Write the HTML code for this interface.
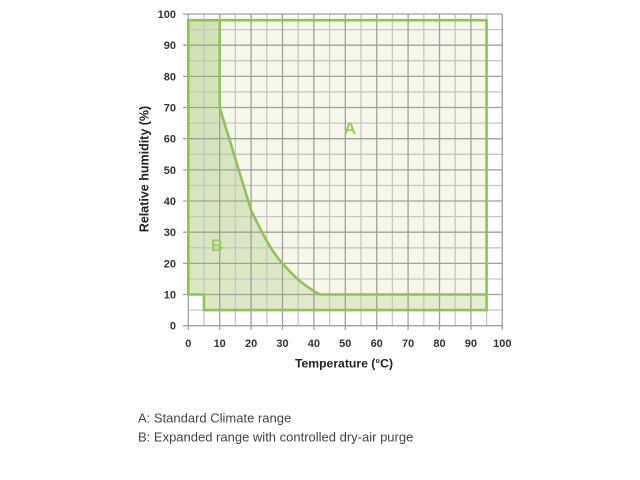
<!DOCTYPE html>
<html>
<head>
<meta charset="utf-8">
<style>
html,body{margin:0;padding:0;background:#fff;}
body{width:640px;height:480px;overflow:hidden;}
svg{display:block;}
</style>
</head>
<body>
<svg width="640" height="480" viewBox="0 0 640 480" xmlns="http://www.w3.org/2000/svg">
  <defs>
    <linearGradient id="gB" x1="188" y1="20" x2="487" y2="310" gradientUnits="userSpaceOnUse">
      <stop offset="0" stop-color="#cfe2b2"/>
      <stop offset="0.45" stop-color="#d9e7c2"/>
      <stop offset="1" stop-color="#e6eed2"/>
    </linearGradient>
  </defs>
  <!-- Region A fill -->
  <rect x="204" y="20.2" width="282.6" height="289.9" fill="#f6f6e9"/>
  <!-- Region B fill -->
  <path d="M188.3,20.2 L219.7,20.2 L219.7,107.5 L251.1,210.4 C262,232 270,250 282.5,263.4 C290,272 298,280 305,285 C312,290 316,293 320.2,294.5 L486.6,294.5 L486.6,310.1 L204,310.1 L204,294.5 L188.3,294.5 Z" fill="url(#gB)"/>

  <!-- grid -->
  <g stroke-width="1.3" fill="none">
    <g stroke="#c6c6c3">
      <line x1="204" y1="14" x2="204" y2="325.7"/>
      <line x1="235.4" y1="14" x2="235.4" y2="325.7"/>
      <line x1="266.8" y1="14" x2="266.8" y2="325.7"/>
      <line x1="298.2" y1="14" x2="298.2" y2="325.7"/>
      <line x1="329.6" y1="14" x2="329.6" y2="325.7"/>
      <line x1="361" y1="14" x2="361" y2="325.7"/>
      <line x1="392.4" y1="14" x2="392.4" y2="325.7"/>
      <line x1="423.8" y1="14" x2="423.8" y2="325.7"/>
      <line x1="455.2" y1="14" x2="455.2" y2="325.7"/>
      <line x1="486.6" y1="14" x2="486.6" y2="325.7"/>
      <line x1="188.3" y1="29.6" x2="502.3" y2="29.6"/>
      <line x1="188.3" y1="60.7" x2="502.3" y2="60.7"/>
      <line x1="188.3" y1="91.9" x2="502.3" y2="91.9"/>
      <line x1="188.3" y1="123.1" x2="502.3" y2="123.1"/>
      <line x1="188.3" y1="154.3" x2="502.3" y2="154.3"/>
      <line x1="188.3" y1="185.5" x2="502.3" y2="185.5"/>
      <line x1="188.3" y1="216.6" x2="502.3" y2="216.6"/>
      <line x1="188.3" y1="247.8" x2="502.3" y2="247.8"/>
      <line x1="188.3" y1="279" x2="502.3" y2="279"/>
      <line x1="188.3" y1="310.1" x2="502.3" y2="310.1"/>
    </g>
    <g stroke="#a0a09d">
      <line x1="188.3" y1="14" x2="188.3" y2="330"/>
      <line x1="219.7" y1="14" x2="219.7" y2="330"/>
      <line x1="251.1" y1="14" x2="251.1" y2="330"/>
      <line x1="282.5" y1="14" x2="282.5" y2="330"/>
      <line x1="313.9" y1="14" x2="313.9" y2="330"/>
      <line x1="345.3" y1="14" x2="345.3" y2="330"/>
      <line x1="376.7" y1="14" x2="376.7" y2="330"/>
      <line x1="408.1" y1="14" x2="408.1" y2="330"/>
      <line x1="439.5" y1="14" x2="439.5" y2="330"/>
      <line x1="470.9" y1="14" x2="470.9" y2="330"/>
      <line x1="502.3" y1="14" x2="502.3" y2="330"/>
      <line x1="183" y1="14" x2="502.3" y2="14"/>
      <line x1="183" y1="45.2" x2="502.3" y2="45.2"/>
      <line x1="183" y1="76.4" x2="502.3" y2="76.4"/>
      <line x1="183" y1="107.5" x2="502.3" y2="107.5"/>
      <line x1="183" y1="138.7" x2="502.3" y2="138.7"/>
      <line x1="183" y1="169.9" x2="502.3" y2="169.9"/>
      <line x1="183" y1="201" x2="502.3" y2="201"/>
      <line x1="183" y1="232.2" x2="502.3" y2="232.2"/>
      <line x1="183" y1="263.4" x2="502.3" y2="263.4"/>
      <line x1="183" y1="294.5" x2="502.3" y2="294.5"/>
      <line x1="183" y1="325.7" x2="502.3" y2="325.7"/>
    </g>
  </g>

  <!-- green outlines -->
  <g stroke="#8fc25b" stroke-width="2.6" fill="none" stroke-linejoin="miter">
    <path d="M188.3,20.2 L486.6,20.2 L486.6,310.1 L204,310.1 L204,294.5 L188.3,294.5 Z"/>
    <path d="M219.7,20.2 L219.7,107.5 L251.1,210.4 C262,232 270,250 282.5,263.4 C290,272 298,280 305,285 C312,290 316,293 320.2,294.5 L486.6,294.5"/>
  </g>

  <!-- region labels -->
  <text x="350" y="134" font-family="Liberation Sans, sans-serif" font-size="17" font-weight="bold" fill="#9ccb63" text-anchor="middle">A</text>
  <text x="217" y="251" font-family="Liberation Sans, sans-serif" font-size="17" font-weight="bold" fill="#9ccb63" text-anchor="middle">B</text>

  <!-- y tick labels -->
  <g font-family="Liberation Sans, sans-serif" font-size="11" font-weight="bold" fill="#333" text-anchor="end">
    <text x="176" y="18">100</text>
    <text x="176" y="49.2">90</text>
    <text x="176" y="80.4">80</text>
    <text x="176" y="111.5">70</text>
    <text x="176" y="142.7">60</text>
    <text x="176" y="173.9">50</text>
    <text x="176" y="205">40</text>
    <text x="176" y="236.2">30</text>
    <text x="176" y="267.4">20</text>
    <text x="176" y="298.5">10</text>
    <text x="176" y="329.7">0</text>
  </g>
  <!-- x tick labels -->
  <g font-family="Liberation Sans, sans-serif" font-size="11" font-weight="bold" fill="#333" text-anchor="middle">
    <text x="188.3" y="347">0</text>
    <text x="219.7" y="347">10</text>
    <text x="251.1" y="347">20</text>
    <text x="282.5" y="347">30</text>
    <text x="313.9" y="347">40</text>
    <text x="345.3" y="347">50</text>
    <text x="376.7" y="347">60</text>
    <text x="408.1" y="347">70</text>
    <text x="439.5" y="347">80</text>
    <text x="470.9" y="347">90</text>
    <text x="502.3" y="347">100</text>
  </g>

  <!-- axis titles -->
  <text x="344" y="367.5" font-family="Liberation Sans, sans-serif" font-size="12.2" font-weight="bold" fill="#222" text-anchor="middle">Temperature (°C)</text>
  <text transform="translate(148.5,169) rotate(-90)" font-family="Liberation Sans, sans-serif" font-size="12.5" font-weight="bold" fill="#222" text-anchor="middle">Relative humidity (%)</text>

  <!-- legend -->
  <g font-family="Liberation Sans, sans-serif" font-size="13" fill="#444">
    <text x="138" y="422.5">A: Standard Climate range</text>
    <text x="138" y="441.5">B: Expanded range with controlled dry-air purge</text>
  </g>
</svg>
</body>
</html>
